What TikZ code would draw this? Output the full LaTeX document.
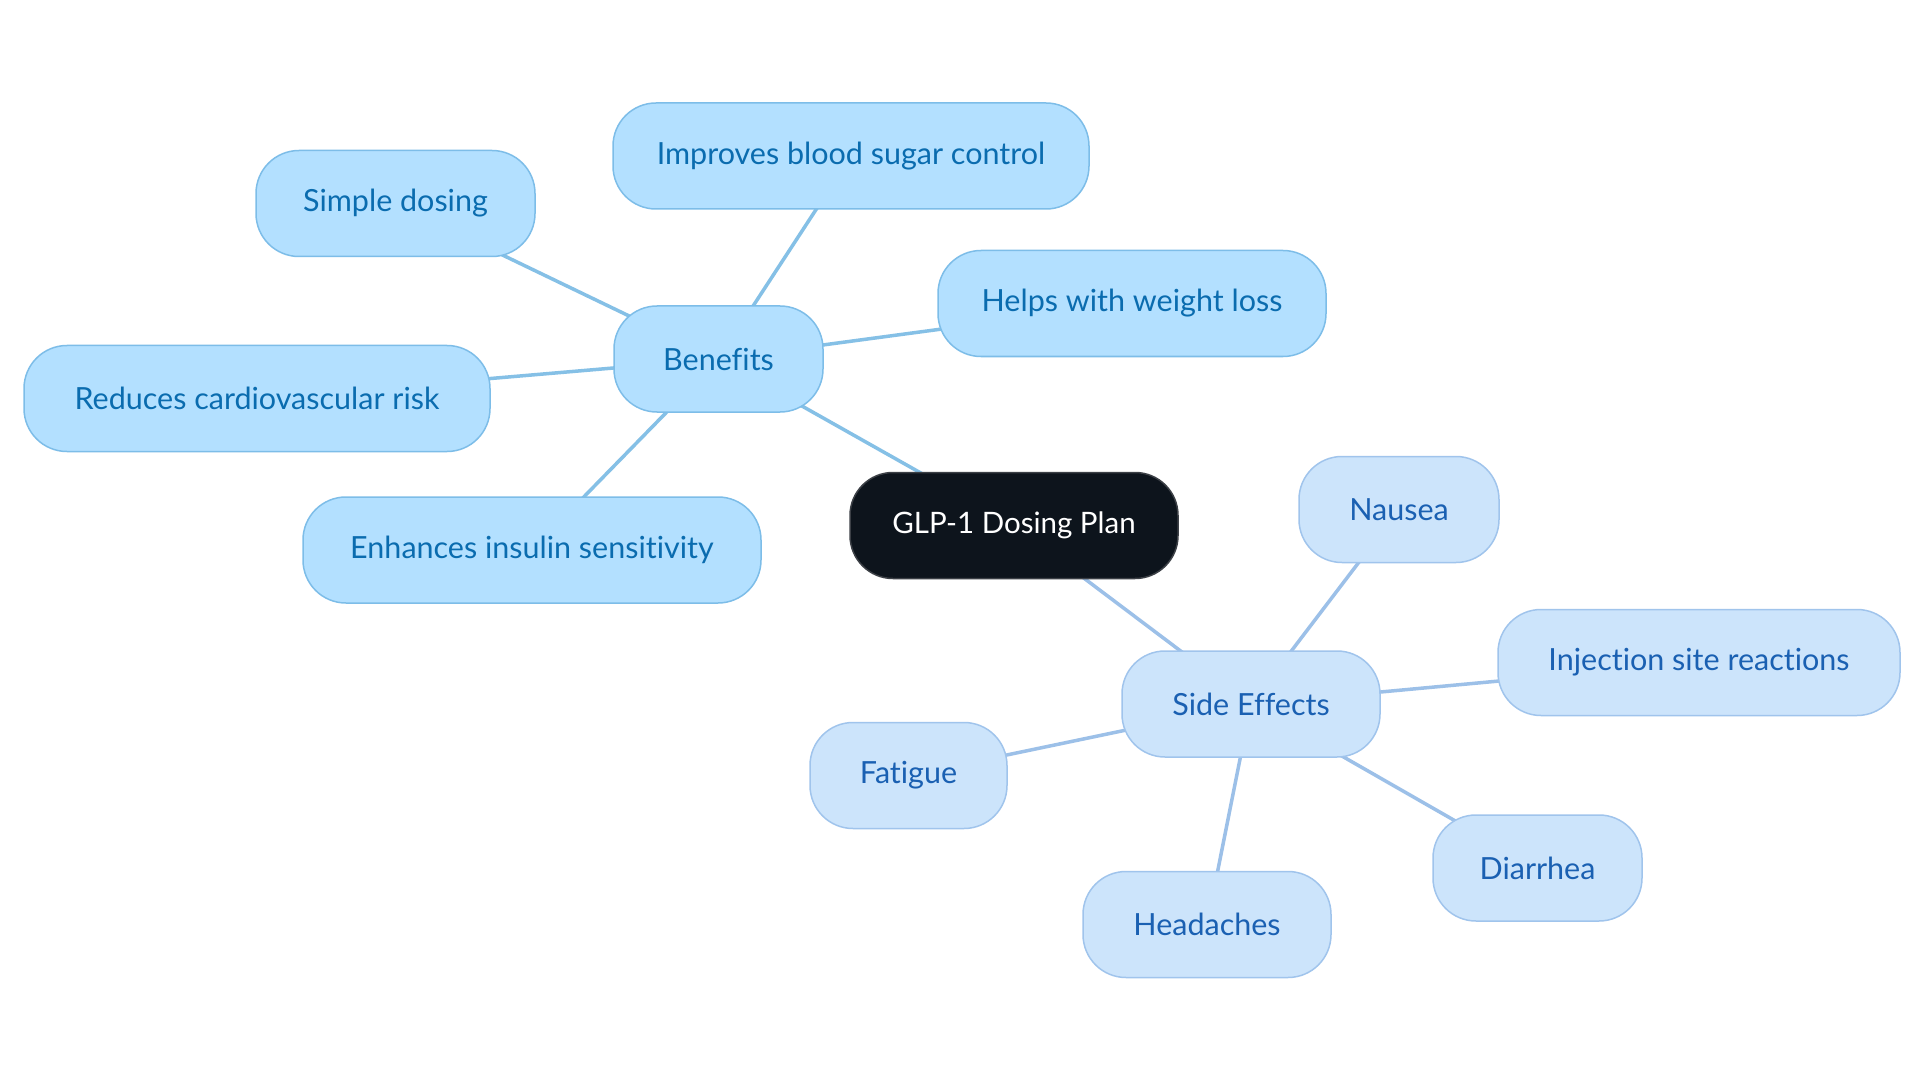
\documentclass[tikz,border=0pt]{standalone}
\usepackage{fontspec}
\setmainfont{Lato}[Ligatures=NoCommon]
\usetikzlibrary{backgrounds}
\pgfdeclarelayer{paper}
\pgfsetlayers{paper,background,main}
\definecolor{benfill}{RGB}{179,224,255}
\definecolor{bendraw}{RGB}{125,189,232}
\definecolor{bentext}{RGB}{10,108,175}
\definecolor{benline}{RGB}{133,192,230}
\definecolor{sidefill}{RGB}{204,228,251}
\definecolor{sidedraw}{RGB}{160,196,236}
\definecolor{sidetext}{RGB}{26,96,178}
\definecolor{sideline}{RGB}{156,192,232}
\definecolor{rootfill}{RGB}{13,20,28}
\definecolor{rootdraw}{RGB}{60,64,70}
\tikzset{
  box/.style={rounded corners=43pt, line width=1.5pt, minimum height=106pt, inner sep=0pt,
    font=\fontsize{30.5}{34}\selectfont},
  benbox/.style={box, fill=benfill, draw=bendraw, text=bentext},
  sidebox/.style={box, fill=sidefill, draw=sidedraw, text=sidetext},
  rootbox/.style={box, fill=rootfill, draw=rootdraw, text=white, font=\fontsize{29.5}{34}\selectfont},
  benlink/.style={draw=benline, line width=3.5pt},
  sidelink/.style={draw=sideline, line width=3.5pt},
}
\begin{document}
\begin{tikzpicture}[x=1pt,y=-1pt]
\begin{pgfonlayer}{paper}
\fill[white] (0,0) rectangle (1920,1083);
\end{pgfonlayer}
\useasboundingbox (0,0) rectangle (1920,1083);
\node[rootbox, minimum width=328pt] (glp) at (1014,525.5) {GLP-1 Dosing Plan};
\node[benbox, minimum width=209pt] (ben) at (718.5,359) {Benefits};
\node[benbox, minimum width=476pt] (imp) at (851,156) {Improves blood sugar control};
\node[benbox, minimum width=279pt] (sim) at (395.5,203.5) {Simple dosing};
\node[benbox, minimum width=388pt] (hlp) at (1132,303.5) {Helps with weight loss};
\node[benbox, minimum width=466pt] (red) at (257,398.5) {Reduces cardiovascular risk};
\node[benbox, minimum width=458pt] (enh) at (532,550) {Enhances insulin sensitivity};
\node[sidebox, minimum width=258pt] (sid) at (1251,704) {Side Effects};
\node[sidebox, minimum width=200pt] (nau) at (1399,509.5) {Nausea};
\node[sidebox, minimum width=402pt] (inj) at (1699,662.5) {Injection site reactions};
\node[sidebox, minimum width=197pt] (fat) at (908.5,775.5) {Fatigue};
\node[sidebox, minimum width=209pt] (dia) at (1537.5,868) {Diarrhea};
\node[sidebox, minimum width=248pt] (hea) at (1207,924.5) {Headaches};
\begin{scope}[on background layer]
\draw[benlink] (glp.center) -- (ben.center);
\draw[benlink] (ben.center) -- (imp.center);
\draw[benlink] (ben.center) -- (sim.center);
\draw[benlink] (ben.center) -- (hlp.center);
\draw[benlink] (ben.center) -- (red.center);
\draw[benlink] (ben.center) -- (enh.center);
\draw[sidelink] (glp.center) -- (sid.center);
\draw[sidelink] (sid.center) -- (nau.center);
\draw[sidelink] (sid.center) -- (inj.center);
\draw[sidelink] (sid.center) -- (fat.center);
\draw[sidelink] (sid.center) -- (dia.center);
\draw[sidelink] (sid.center) -- (hea.center);
\end{scope}
\end{tikzpicture}
\end{document}
